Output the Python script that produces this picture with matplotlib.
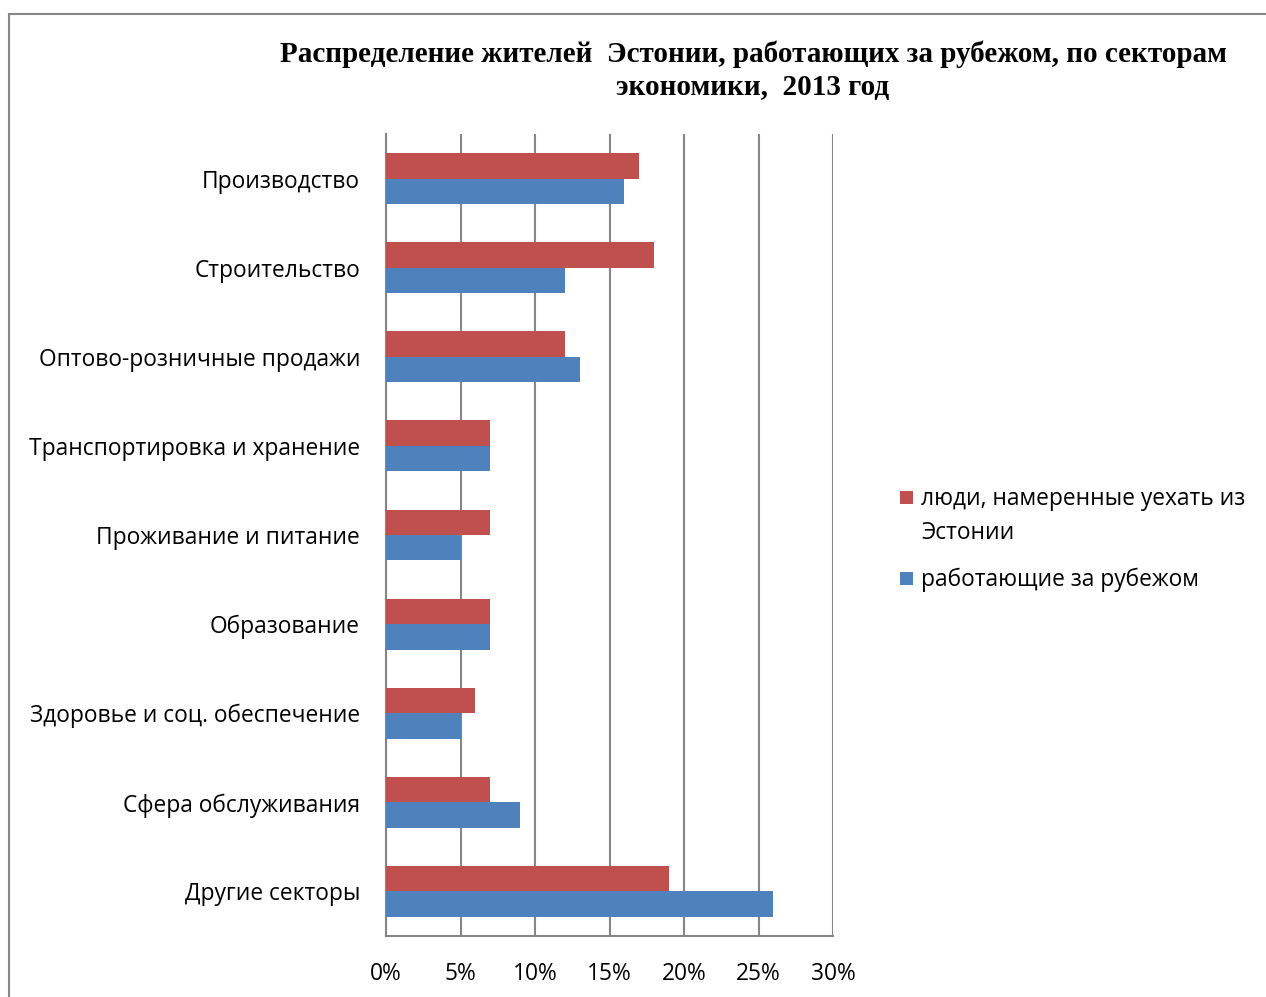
import matplotlib
matplotlib.use("Agg")
import matplotlib.pyplot as plt
import numpy as np
from matplotlib.patches import Rectangle
from matplotlib.ticker import FuncFormatter, MultipleLocator

categories = ["Производство", "Строительство", "Оптово-розничные продажи",
              "Транспортировка и хранение", "Проживание и питание", "Образование",
              "Здоровье и соц. обеспечение", "Сфера обслуживания", "Другие секторы"]
intend_to_leave = [17, 18, 12, 7, 7, 7, 6, 7, 19]
working_abroad = [16, 12, 13, 7, 5, 7, 5, 9, 26]
series_names = ["люди, намеренные уехать из\nЭстонии", "работающие за рубежом"]
title = "Распределение жителей  Эстонии, работающих за рубежом, по секторам\nэкономики,  2013 год"

RED = "#C0504D"
BLUE = "#4F81BD"
GRID = "#868686"
SANS = ["Open Sans", "DejaVu Sans"]
SERIF = ["Liberation Serif", "DejaVu Serif"]
FS = 16.4

fig = plt.figure(figsize=(12.66, 9.97), dpi=100)
fig.patches.append(Rectangle((9/1266, -0.1), 1.2, 1 - 14/997 + 0.1, transform=fig.transFigure,
                             fill=False, edgecolor="#868686", linewidth=1.5))

ax = fig.add_axes([386/1266, 1 - 936/997, (833 - 386)/1266, (936 - 134)/997])
n = len(categories)
y = np.arange(n)
h = 0.285
ax.barh(y - h/2, intend_to_leave, height=h, color=RED, zorder=3)
ax.barh(y + h/2, working_abroad, height=h, color=BLUE, zorder=3)
ax.set_ylim(n - 0.5, -0.5)
ax.set_xlim(0, 30)
ax.xaxis.set_major_locator(MultipleLocator(5))
ax.xaxis.set_major_formatter(FuncFormatter(lambda v, p: f"{v:.0f}%"))
ax.set_yticks(y)
ax.set_yticklabels(categories, family=SANS, fontsize=FS)
for t in ax.get_xticklabels():
    t.set_family(SANS)
    t.set_fontsize(FS)
ax.tick_params(axis="both", length=0)
ax.tick_params(axis="y", pad=18.7)
ax.tick_params(axis="x", pad=19)
ax.grid(axis="x", color=GRID, linewidth=1.5, zorder=0)
for s in ["top", "right"]:
    ax.spines[s].set_visible(False)
for s in ["left", "bottom"]:
    ax.spines[s].set_color(GRID)
    ax.spines[s].set_linewidth(1.5)

fig.text(753/1266, 1 - 71/997, title, ha="center", va="center", family=SERIF,
         fontweight="bold", fontsize=21, linespacing=1.3)

# legend (manual, Excel-like layout: marker aligned with first text line)
legend_items = [(series_names[0], RED, 497), (series_names[1], BLUE, 578)]
for label, color, ypx in legend_items:
    fig.patches.append(Rectangle((900/1266, 1 - (ypx + 7)/997), 13/1266, 13/997,
                                 transform=fig.transFigure, facecolor=color, edgecolor="none"))
    fig.text(921/1266, 1 - (ypx - 10)/997, label, ha="left", va="top", family=SANS,
             fontsize=FS, linespacing=1.55)

fig.savefig("out.png", dpi=100)
